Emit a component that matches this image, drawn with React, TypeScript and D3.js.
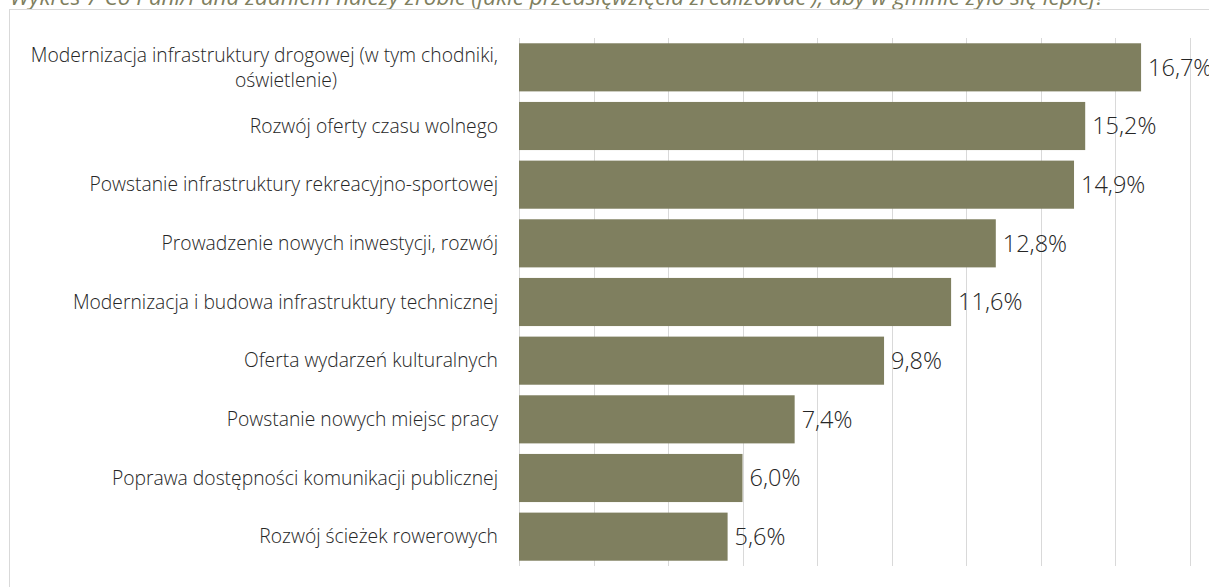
import React from "react";
import * as d3 from "d3";

const categories: string[][] = [
  ["Modernizacja infrastruktury drogowej (w tym chodniki,", "oświetlenie)"],
  ["Rozwój oferty czasu wolnego"],
  ["Powstanie infrastruktury rekreacyjno-sportowej"],
  ["Prowadzenie nowych inwestycji, rozwój"],
  ["Modernizacja i budowa infrastruktury technicznej"],
  ["Oferta wydarzeń kulturalnych"],
  ["Powstanie nowych miejsc pracy"],
  ["Poprawa dostępności komunikacji publicznej"],
  ["Rozwój ścieżek rowerowych"],
];
const values: number[] = [16.7, 15.2, 14.9, 12.8, 11.6, 9.8, 7.4, 6.0, 5.6];
const valueLabels: string[] = ["16,7%", "15,2%", "14,9%", "12,8%", "11,6%", "9,8%", "7,4%", "6,0%", "5,6%"];
const xTicks: number[] = [0, 2, 4, 6, 8, 10, 12, 14, 16, 18];
const title =
  "Wykres 7 Co Pani/Pana zdaniem należy zrobić (jakie przedsięwzięcia zrealizować ), aby w gminie żyło się lepiej?";

const W = 1209;
const H = 587;
const FONT = "'Open Sans', sans-serif";
const CAT_SIZE = 19.3;

export default function App() {
  const x = d3.scaleLinear().domain([0, 18]).range([519, 1189.5]);
  const keys = categories.map((_, i) => String(i));
  const y = d3
    .scaleBand<string>()
    .domain(keys)
    .range([38, 566])
    .paddingInner(0.18)
    .paddingOuter(0.09);

  return (
    <svg
      width={W}
      height={H}
      style={{ position: "absolute", left: 0, top: 0, background: "#fff" }}
    >
      <text
        x={10}
        y={4.5}
        fontFamily={FONT}
        fontStyle="italic"
        fontSize={22.5}
        fill="#7f7f5f"
      >
        {title}
      </text>
      <rect x={9.5} y={9.5} width={W + 10} height={H + 10} fill="none" stroke="#d9d9d9" strokeWidth={1} />
      {xTicks.map((t) => (
        <line
          key={t}
          x1={Math.round(x(t)) + 0.5}
          x2={Math.round(x(t)) + 0.5}
          y1={38}
          y2={566}
          stroke="#d9d9d9"
          strokeWidth={1}
        />
      ))}
      {values.map((v, i) => (
        <rect
          key={i}
          x={x(0)}
          y={y(String(i))}
          width={x(v) - x(0)}
          height={y.bandwidth()}
          fill="#7f7f5f"
        />
      ))}
      {values.map((v, i) => (
        <text
          key={i}
          x={x(v) + 7}
          y={(y(String(i)) as number) + y.bandwidth() / 2}
          dy="0.35em"
          fontFamily={FONT}
          fontWeight={300}
          fontSize={23.5}
          fill="#262626"
        >
          {valueLabels[i]}
        </text>
      ))}
      {categories.map((lines, i) => {
        const cy = (y(String(i)) as number) + y.bandwidth() / 2;
        if (lines.length === 1) {
          return (
            <text
              key={i}
              x={498}
              y={cy}
              dy="0.35em"
              textAnchor="end"
              fontFamily={FONT}
              fontWeight={300}
              fontSize={CAT_SIZE}
              fill="#262626"
            >
              {lines[0]}
            </text>
          );
        }
        return (
          <g key={i}>
            <text
              x={498}
              y={cy - 12.5}
              dy="0.35em"
              textAnchor="end"
              fontFamily={FONT}
              fontWeight={300}
              fontSize={CAT_SIZE}
              fill="#262626"
            >
              {lines[0]}
            </text>
            <text
              x={286}
              y={cy + 12.5}
              dy="0.35em"
              textAnchor="middle"
              fontFamily={FONT}
              fontWeight={300}
              fontSize={CAT_SIZE}
              fill="#262626"
            >
              {lines[1]}
            </text>
          </g>
        );
      })}
    </svg>
  );
}
